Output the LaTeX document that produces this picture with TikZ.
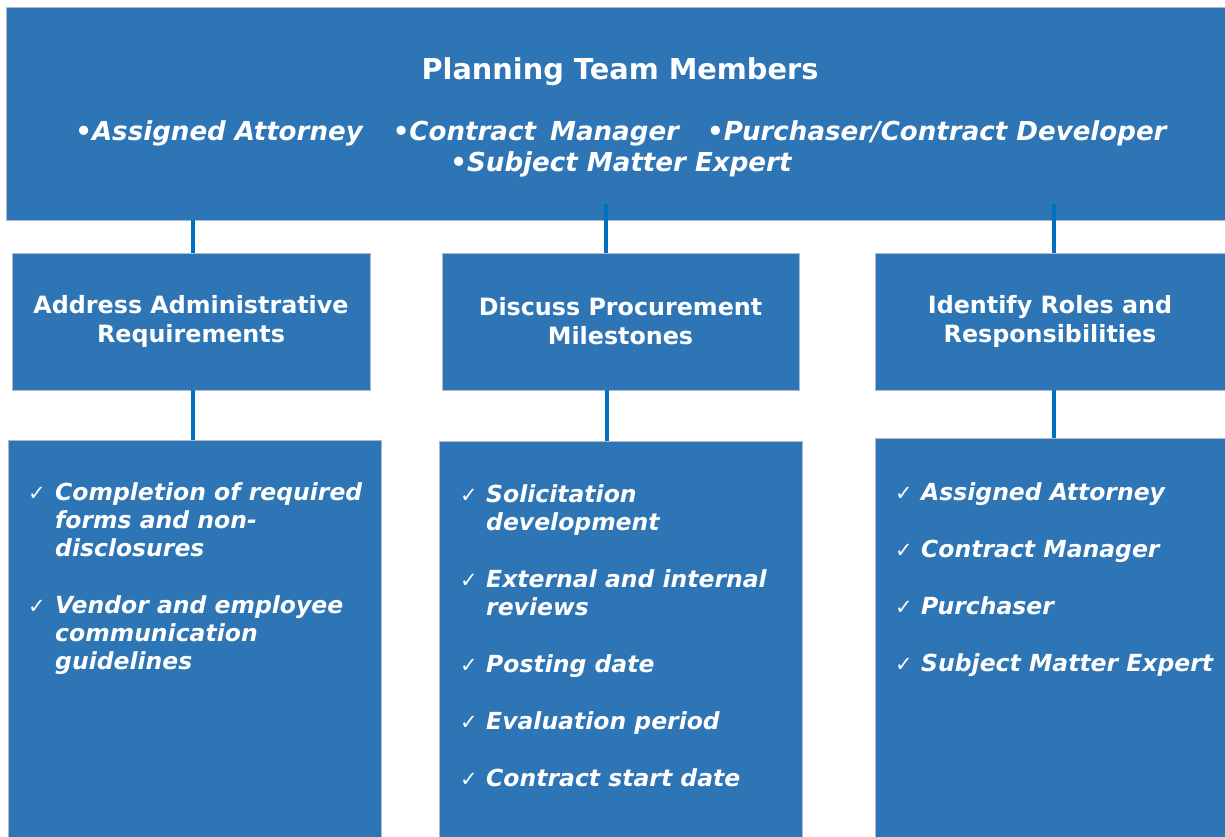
\documentclass[tikz,border=0pt]{standalone}
\usepackage{fontspec}
\setmainfont{DejaVu Sans}
\usetikzlibrary{positioning}

\definecolor{boxblue}{RGB}{46,117,182}
\definecolor{linkblue}{RGB}{0,112,192}
\definecolor{edgegrey}{RGB}{170,185,205}

\newcommand{\tickmark}{\fontsize{21}{21}\selectfont\mdseries\upshape ✓}

\begin{document}
\begin{tikzpicture}[x=1pt,y=-1pt]
				\tikzstyle{box}=[rectangle,fill=boxblue,draw=edgegrey,line width=0.8pt,inner sep=0pt]
				\tikzstyle{title}=[text=white,inner sep=0pt,font=\fontsize{28.8}{34}\selectfont\bfseries]
				\tikzstyle{members}=[text=white,inner sep=0pt,align=center,font=\fontsize{26.1}{31}\selectfont\bfseries\itshape]
				\tikzstyle{heading}=[text=white,align=center,font=\fontsize{23.8}{29}\selectfont\bfseries]
				\tikzstyle{list}=[text=white,inner sep=0pt,anchor=north west,font=\fontsize{23.5}{28}\selectfont\bfseries\itshape]
				\tikzstyle{link}=[draw=linkblue,line width=3.5pt]
				
				\useasboundingbox (0,0) rectangle (1225,837);
				
				\node[box,minimum width=1219pt,minimum height=213pt] (team) at (615.5,113.5) {};
				\node[title,anchor=base] (ttl) at (620,80) {Planning Team Members};
				\node[members,anchor=north] (mem) at (621,120) {•Assigned Attorney\hspace{30pt}•Contract\hspace{14pt}Manager\hspace{28pt}•Purchaser/Contract Developer\\•Subject Matter Expert};
				
				\node[box,heading,minimum width=358pt,minimum height=137pt] (adm) at (191,321.5) {Address Administrative\\Requirements};
				\node[box,heading,minimum width=357pt,minimum height=137pt] (proc) at (620.5,321.5) {Discuss Procurement\\Milestones};
				\node[box,heading,minimum width=350pt,minimum height=137pt] (roles) at (1050,321.5) {Identify Roles and\\Responsibilities};
				
				\node[box,minimum width=373pt,minimum height=397pt] (admbox) at (194.5,638.5) {};
				\node[box,minimum width=363pt,minimum height=396pt] (procbox) at (620.5,639) {};
				\node[box,minimum width=350pt,minimum height=399pt] (rolesbox) at (1050,637.5) {};
				
				\node[list] (admlist) at (28,480.4) {\begin{tabular}{@{}p{27pt}@{}p{320pt}@{}}
					\tickmark & Completion of required\newline forms and non-\newline disclosures \\[29pt]
					\tickmark & Vendor and employee\newline communication\newline guidelines
				\end{tabular}};
				\node[list] (proclist) at (460,482.4) {\begin{tabular}{@{}p{26pt}@{}p{310pt}@{}}
					\tickmark & Solicitation\newline development \\[29pt]
					\tickmark & External and internal\newline reviews \\[29pt]
					\tickmark & Posting date \\[29pt]
					\tickmark & Evaluation period \\[29pt]
					\tickmark & Contract start date
				\end{tabular}};
				\node[list] (roleslist) at (895,480.4) {\begin{tabular}{@{}p{26pt}@{}p{300pt}@{}}
					\tickmark & Assigned Attorney \\[29pt]
					\tickmark & Contract Manager \\[29pt]
					\tickmark & Purchaser \\[29pt]
					\tickmark & Subject Matter Expert
				\end{tabular}};
				
				\coordinate (a1) at ([xshift=2pt]adm.north);
				\coordinate (p1) at ([xshift=-14.5pt]proc.north);
				\coordinate (r1) at ([xshift=4pt]roles.north);
				\coordinate (a2) at ([xshift=2pt]adm.south);
				\coordinate (p2) at ([xshift=-13.5pt]proc.south);
				\coordinate (r2) at ([xshift=4pt]roles.south);
				\coordinate (pt) at (p1 |- 0,204);
				\coordinate (rt) at (r1 |- 0,204);
				
				\draw[link] (a1 |- team.south) -- (a1);
				\draw[link] (pt) -- (p1);
				\draw[link] (rt) -- (r1);
				\draw[link] (a2) -- (a2 |- admbox.north);
				\draw[link] (p2) -- (p2 |- procbox.north);
				\draw[link] (r2) -- (r2 |- rolesbox.north);
\end{tikzpicture}
\end{document}
